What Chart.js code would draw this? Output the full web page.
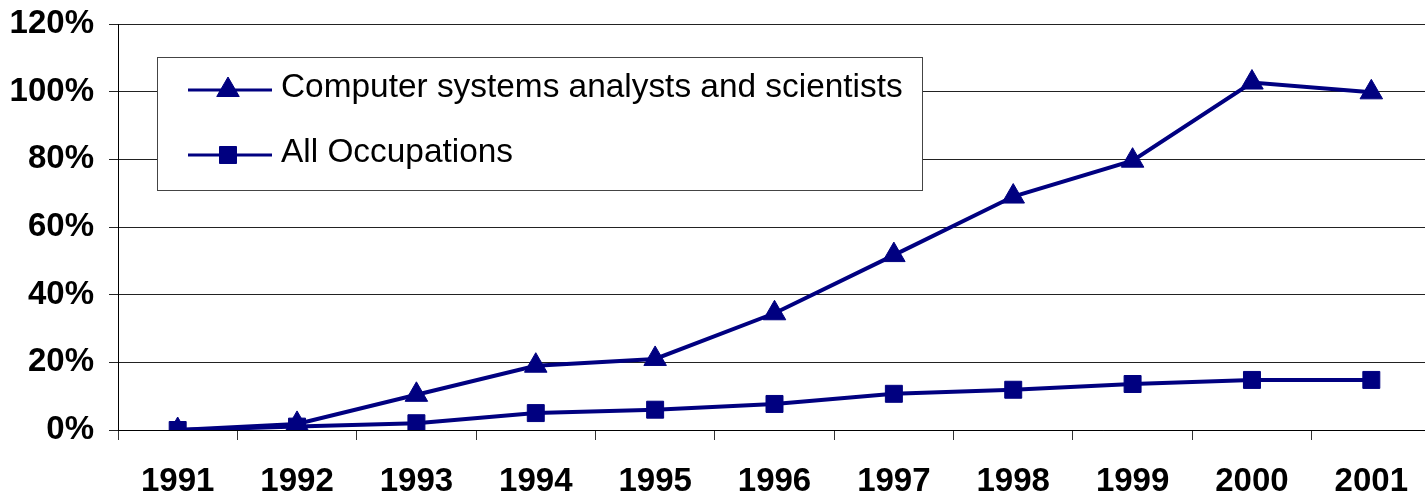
<!DOCTYPE html>
<html>
<head>
<meta charset="utf-8">
<script src="https://cdn.jsdelivr.net/npm/chart.js@4/dist/chart.umd.min.js"></script>
<style>
  html, body { margin: 0; padding: 0; background: #fff; overflow: hidden; }
  #wrap { width: 1425px; height: 499px; overflow: hidden; }
  #growthChart { width: 1445px; height: 499px; display: block; }
</style>
</head>
<body>
<div id="wrap"><canvas id="growthChart" width="1445" height="499"></canvas></div>
<script>
const years = ['1991', '1992', '1993', '1994', '1995', '1996', '1997', '1998', '1999', '2000', '2001'];
const computerAnalysts = [0, 1.8, 10.4, 19, 21, 34.5, 51.7, 69, 79.6, 102.7, 99.8]; // % growth since 1991
const allOccupations = [0, 1, 2, 5, 6, 7.7, 10.7, 11.9, 13.6, 14.8, 14.8];
const yTicks = [0, 20, 40, 60, 80, 100, 120];

const navy = '#000080';
const fontFamily = '"Liberation Sans", Arial, sans-serif';

// legend box drawn inside the plot, like the original
const boxLegend = {
    id: 'boxLegend',
    afterDatasetsDraw(chart) {
        const ctx = chart.ctx;
        const left = 157, top = 57, right = 922, bottom = 190;
        ctx.save();
        ctx.fillStyle = '#fff';
        ctx.fillRect(left, top, right - left, bottom - top);
        ctx.strokeStyle = '#444';
        ctx.lineWidth = 1;
        ctx.strokeRect(left + 0.5, top + 0.5, right - left, bottom - top);

        const rows = [90, 155];
        chart.data.datasets.forEach((ds, i) => {
            const y = rows[i];
            ctx.strokeStyle = navy;
            ctx.lineWidth = 3;
            ctx.beginPath();
            ctx.moveTo(188, y);
            ctx.lineTo(272, y);
            ctx.stroke();
            ctx.fillStyle = navy;
            ctx.lineWidth = 1;
            Chart.helpers.drawPoint(ctx, {
                pointStyle: ds.pointStyle,
                radius: ds.pointRadius,
                borderWidth: 1,
                rotation: 0
            }, 228, y);

            ctx.fillStyle = '#000';
            ctx.font = '33.4px ' + fontFamily;
            ctx.textBaseline = 'middle';
            ctx.textAlign = 'left';
            ctx.fillText(ds.label, 281, y - 2);
        });
        ctx.restore();
    }
};

const ctx = document.getElementById('growthChart').getContext('2d');
const growthChart = new Chart(ctx, {
    type: 'line',
    data: {
        labels: years,
        datasets: [{
            label: 'Computer systems analysts and scientists',
            data: computerAnalysts,
            borderColor: navy,
            backgroundColor: navy,
            borderWidth: 4,
            pointStyle: 'triangle',
            pointRadius: 13,
            pointBorderWidth: 1,
            tension: 0
        }, {
            label: 'All Occupations',
            data: allOccupations,
            borderColor: navy,
            backgroundColor: navy,
            borderWidth: 4,
            pointStyle: 'rect',
            pointRadius: 12,
            pointBorderWidth: 1,
            tension: 0
        }]
    },
    options: {
        responsive: false,
        animation: false,
        // canvas is wider than the window: the plot runs past the right edge, as in the original
        layout: { padding: { top: 24, right: 0, left: 0, bottom: 0 } },
        plugins: {
            legend: { display: false },
            tooltip: { enabled: false }
        },
        scales: {
            x: {
                offset: true,
                grid: {
                    offset: true,
                    drawOnChartArea: false,
                    drawTicks: true,
                    tickLength: 10,
                    color: '#333'
                },
                border: { color: '#000', width: 1 },
                ticks: {
                    color: '#000',
                    padding: 22,
                    font: { family: fontFamily, size: 33, weight: 'bold' }
                },
                afterFit(scale) {
                    scale.height = 69;
                    scale.paddingLeft = 0;
                    scale.paddingRight = 0;
                }
            },
            y: {
                min: 0,
                max: 120,
                afterBuildTicks(scale) {
                    scale.ticks = yTicks.map(v => ({ value: v }));
                },
                grid: {
                    color: '#222',
                    lineWidth: 1,
                    tickLength: 9
                },
                border: { color: '#000', width: 1 },
                ticks: {
                    color: '#000',
                    padding: 15,
                    font: { family: fontFamily, size: 33, weight: 'bold' },
                    callback: v => v + '%'
                },
                afterFit(scale) {
                    scale.width = 118;
                    scale.paddingTop = 0;
                    scale.paddingBottom = 0;
                }
            }
        }
    },
    plugins: [boxLegend]
});
</script>
</body>
</html>
